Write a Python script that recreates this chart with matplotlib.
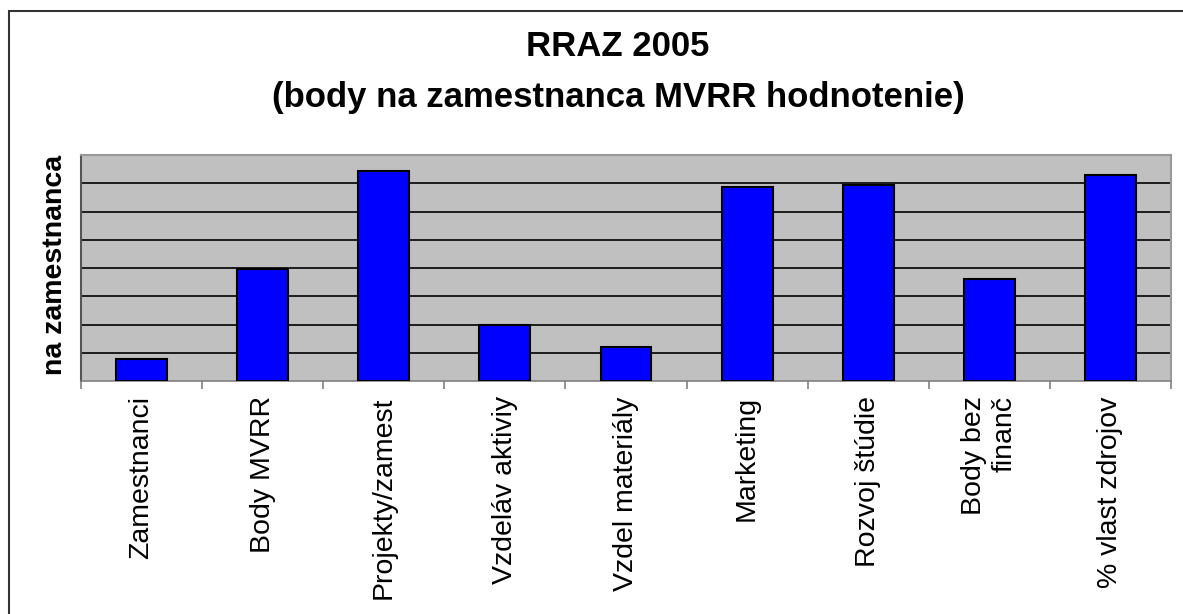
import matplotlib
matplotlib.use('Agg')
import matplotlib.pyplot as plt
from matplotlib.patches import Rectangle

# data
categories = ['Zamestnanci', 'Body MVRR', 'Projekty/zamest', 'Vzdeláv aktiviy',
              'Vzdel materiály', 'Marketing', 'Rozvoj štúdie', 'Body bez\nfinanč',
              '% vlast zdrojov']
values = [0.77, 3.97, 7.43, 2.0, 1.22, 6.88, 6.95, 3.62, 7.29]
title_lines = ['RRAZ 2005', '(body na zamestnanca MVRR hodnotenie)']
y_label = 'na zamestnanca'


def main():
    plt.rcParams['font.family'] = ['Liberation Sans', 'DejaVu Sans']

    W, H = 1183, 614
    fig = plt.figure(figsize=(W / 100, H / 100), dpi=100)
    fig.patch.set_facecolor('white')

    # outer frame (right and bottom edges fall outside the picture)
    fig.patches.append(Rectangle((9 / W, -0.1), 2, 1 - 11 / H + 0.1,
                                 transform=fig.transFigure, fill=False,
                                 edgecolor='#333333', linewidth=1.5))

    ax = fig.add_axes([81 / W, 1 - 381 / H, (1171 - 81) / W, (381 - 155) / H])
    ax.set_facecolor('#C0C0C0')

    x = range(len(categories))
    ax.bar(x, values, width=0.42, color='#0000FF', edgecolor='black',
           linewidth=1.5, zorder=3)

    ax.set_xlim(-0.5, len(categories) - 0.5)
    ax.set_ylim(0, 8)

    # horizontal gridlines, no y labels
    ax.set_yticks(range(1, 8))
    ax.yaxis.grid(True, color='black', linewidth=1.2, zorder=1)
    ax.tick_params(axis='y', length=0, labelleft=False)

    # category labels and boundary tick marks
    ax.set_xticks(list(x))
    ax.set_xticklabels(categories, rotation=90, fontsize=20.5, va='top',
                       ha='center', multialignment='right')
    ax.tick_params(axis='x', which='major', length=0, pad=11)
    ax.set_xticks([i - 0.5 for i in range(len(categories) + 1)], minor=True)
    ax.tick_params(axis='x', which='minor', length=5.5, width=1.2,
                   color='#808080')

    ax.spines['left'].set_color('#555555')
    ax.spines['left'].set_linewidth(1.5)
    ax.spines['bottom'].set_color('#808080')
    ax.spines['bottom'].set_linewidth(1.2)
    for s in ('top', 'right'):
        ax.spines[s].set_color('#999999')
        ax.spines[s].set_linewidth(1.5)

    # titles
    fig.text(618 / W, 1 - 47 / H, title_lines[0], fontsize=25,
             fontweight='bold', ha='center', va='center')
    fig.text(618 / W, 1 - 97 / H, title_lines[1], fontsize=25,
             fontweight='bold', ha='center', va='center')

    # y axis label
    fig.text(55 / W, 1 - 375 / H, y_label, rotation=90, fontsize=20.5,
             fontweight='bold', ha='center', va='bottom')

    fig.savefig('out.png', dpi=100)


if __name__ == '__main__':
    main()
